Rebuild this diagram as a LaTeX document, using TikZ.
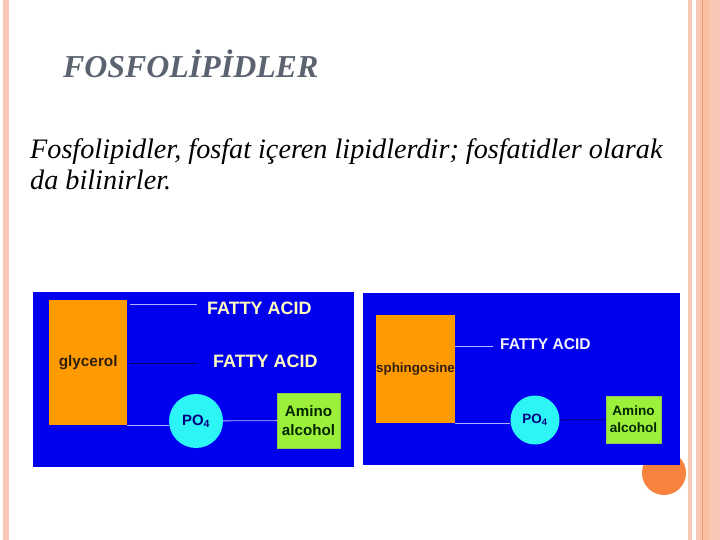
\documentclass[tikz,border=0pt]{standalone}
\usepackage{fontspec}
\setmainfont{Liberation Serif}
\setsansfont{Liberation Sans}
\usepackage{xcolor}
\usetikzlibrary{positioning}
\definecolor{stripe}{HTML}{F9C8B4}
\definecolor{stripedark}{HTML}{E29A78}
\definecolor{dotorange}{HTML}{F7823D}
\definecolor{panelblue}{HTML}{0000EE}
\definecolor{boxorange}{HTML}{FF9A00}
\definecolor{poscyan}{HTML}{2EF5F5}
\definecolor{aminogreen}{HTML}{9CF03A}
\definecolor{titlegray}{HTML}{5C6370}

\begin{document}
\begin{tikzpicture}[x=1bp,y=-1bp,
	panel/.style={fill=panelblue, inner sep=0pt, anchor=north west},
	base/.style={fill=boxorange, inner sep=0pt, anchor=north west, text=brown!25!black},
	fatty/.style={anchor=west, inner sep=0pt},
	po/.style={circle, fill=poscyan, inner sep=0pt, text=blue!50!black},
	amino/.style={fill=aminogreen, draw=aminogreen!60!gray, inner sep=0pt, align=center, text=green!15!black},
	bond/.style={line width=0.8bp, draw=blue!30!white},
	darkbond/.style={line width=0.8bp, draw=blue!40!black}]
	\useasboundingbox (0,0) rectangle (720,540);
	\fill[white] (0,0) rectangle (720,540);
	\fill[stripe] (3,0) rectangle (9,540);
	\fill[stripe] (688,0) rectangle (692,540);
	\fill[stripe] (696,0) rectangle (720,540);
	\fill[stripe!90!orange] (700,0) rectangle (709,540);
	\draw[stripedark, line width=0.8bp] (702,0) -- (702,540);
	\fill[dotorange] (664,473) circle (22);
	\node (title) [anchor=base west, inner sep=0pt, text=titlegray, font=\fontsize{32}{36}\selectfont\bfseries\itshape] at (63,78) {FOSFOLİPİDLER};
	\node (body) [anchor=base west, inner sep=0pt, align=left, font=\fontsize{28.3}{32}\selectfont\itshape] at (30,190) {Fosfolipidler, fosfat içeren lipidlerdir; fosfatidler olarak\\da bilinirler.};
	% glycerol
	\node (gpanel) [panel, minimum width=321bp, minimum height=175bp] at (33,292) {};
	\node (glycerol) [base, minimum width=78bp, minimum height=125bp, font=\sffamily\bfseries\fontsize{15.4}{18}\selectfont] at (49,300) {glycerol};
	\node (fa1) [fatty, text=yellow!25!white, font=\sffamily\bfseries\fontsize{18}{20}\selectfont] at (207,308) {FATTY ACID};
	\node (fa2) [fatty, text=yellow!25!white, font=\sffamily\bfseries\fontsize{18}{20}\selectfont] at (213,361) {FATTY ACID};
	\node (po4) [po, minimum size=54bp, font=\sffamily\bfseries\fontsize{15}{18}\selectfont] at (196,421) {PO\textsubscript{4}};
	\node (amino) [amino, minimum width=63bp, minimum height=55bp, font=\sffamily\bfseries\fontsize{15.2}{19}\selectfont] at (308.5,420.5) {Amino\\alcohol};
	\draw[bond] ([shift={(3,-4)}]fa1.west -| glycerol.east) -- ([shift={(-10,-4)}]fa1.west);
	\draw[darkbond] ([shift={(3,2)}]fa2.west -| glycerol.east) -- ([shift={(-16,2)}]fa2.west);
	\draw[bond] (glycerol.south east) -- (glycerol.south east -| po4.west);
	\draw[bond] (po4) -- (amino);
	% sphingosine
	\node (spanel) [panel, minimum width=317bp, minimum height=172bp] at (363,293) {};
	\node (sphingo) [base, minimum width=78bp, minimum height=108bp, font=\sffamily\bfseries\fontsize{13.4}{16}\selectfont] at (376,315) {sphingosine};
	\node (fa3) [fatty, text=white!95!blue, font=\sffamily\bfseries\fontsize{15.6}{18}\selectfont] at (500,344) {FATTY ACID};
	\node (po4b) [po, minimum size=49bp, font=\sffamily\bfseries\fontsize{13.5}{16}\selectfont] at (535,420) {PO\textsubscript{4}};
	\node (aminob) [amino, minimum width=55bp, minimum height=47bp, font=\sffamily\bfseries\fontsize{13.6}{17}\selectfont] at (633.5,419.5) {Amino\\alcohol};
	\draw[bond] ([shift={(0,2)}]fa3.west -| sphingo.east) -- ([shift={(-7,2)}]fa3.west);
	\draw[bond] (sphingo.south east) -- (sphingo.south east -| po4b.west);
	\draw[darkbond] (po4b) -- (aminob);
\end{tikzpicture}
\end{document}
